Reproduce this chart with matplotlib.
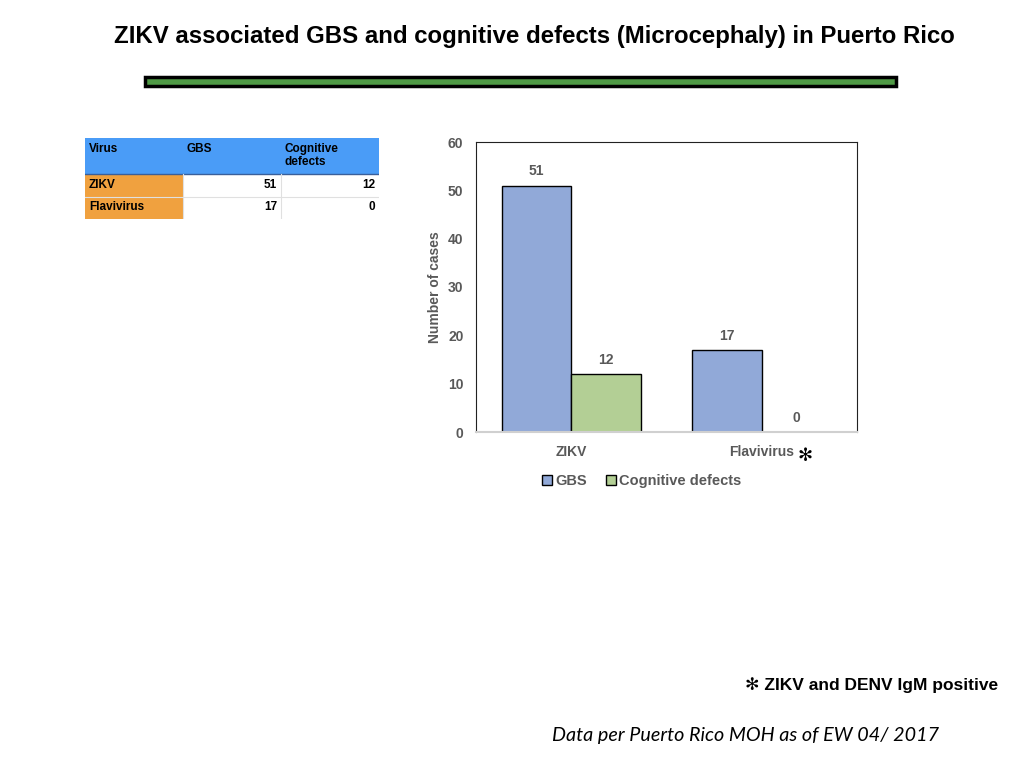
import matplotlib
matplotlib.use("Agg")
import matplotlib.pyplot as plt
import numpy as np
from matplotlib.patches import Rectangle

# data
viruses = ["ZIKV", "Flavivirus"]
gbs = [51, 17]
cognitive = [12, 0]
series_names = ["GBS", "Cognitive defects"]
table_header = ["Virus", "GBS", "Cognitive\ndefects"]

blue = "#91a9d8"
green = "#b3cf95"
grey = "#595959"

plt.rcParams["font.family"] = ["Liberation Sans", "DejaVu Sans"]

fig = plt.figure(figsize=(10.24, 7.68), dpi=100)
W, H = 1024, 768

def fx(px):
    return px / W

def fy(py):
    return 1 - py / H

# title and green rule
fig.text(fx(534), fy(37), "ZIKV associated GBS and cognitive defects (Microcephaly) in Puerto Rico",
         ha="center", va="center", fontsize=17.3, fontweight="bold")
fig.patches.append(Rectangle((fx(145), fy(86)), fx(896) - fx(145), fy(77) - fy(86),
                             transform=fig.transFigure, facecolor="#4f9a45",
                             edgecolor="black", linewidth=2.5))

# table
tax = fig.add_axes([fx(85), fy(219), fx(379) - fx(85), fy(138) - fy(219)])
tax.set_xlim(0, 3)
tax.set_ylim(0, 81)
tax.axis("off")
col_x = [0, 1, 2, 3]
row_y = [81, 45, 22, 0]  # header, zikv, flavi
tax.add_patch(Rectangle((0, 45), 3, 36, facecolor="#4a9cf7", edgecolor="none"))
tax.add_patch(Rectangle((0, 0), 1, 45, facecolor="#f0a13f", edgecolor="none"))
tax.plot([0, 3], [45, 45], color="#3a5f9a", lw=1)
tax.plot([0, 3], [22, 22], color="#e0e0e0", lw=0.8)
tax.plot([1, 1], [0, 45], color="#e0e0e0", lw=0.8)
tax.plot([2, 2], [0, 45], color="#e0e0e0", lw=0.8)
for j, h in enumerate(table_header):
    tax.text(col_x[j] + 0.04, 76, h, ha="left", va="top", fontsize=8.5,
             fontweight="bold", linespacing=1.1)
for i, v in enumerate(viruses):
    yc = (row_y[i + 1] + row_y[i + 2]) / 2 + 1
    tax.text(0.04, yc, v, ha="left", va="center", fontsize=8.5, fontweight="bold")
    tax.text(1.96, yc, str(gbs[i]), ha="right", va="center", fontsize=8.5, fontweight="bold")
    tax.text(2.96, yc, str(cognitive[i]), ha="right", va="center", fontsize=8.5, fontweight="bold")

# bar chart
ax = fig.add_axes([fx(476), fy(432), fx(857) - fx(476), fy(142) - fy(432)])
x = np.arange(len(viruses))
w = 0.365
b1 = ax.bar(x - w / 2, gbs, w, color=blue, edgecolor="black", linewidth=1, label=series_names[0])
b2 = ax.bar(x + w / 2, cognitive, w, color=green, edgecolor="black", linewidth=1, label=series_names[1])
for bars in (b1, b2):
    for r in bars:
        ax.text(r.get_x() + r.get_width() / 2, r.get_height() + 2.9, str(int(r.get_height())),
                ha="center", va="center", fontsize=10, fontweight="bold", color=grey)
ax.set_xlim(-0.5, 1.5)
ax.set_ylim(0, 60)
ax.set_yticks(range(0, 61, 10))
ax.set_xticks(x)
ax.set_xticklabels(viruses)
ax.tick_params(length=0, labelsize=10, colors=grey, pad=9)
for lab in ax.get_xticklabels() + ax.get_yticklabels():
    lab.set_fontweight("bold")
ax.set_ylabel("Number of cases", fontsize=10, fontweight="bold", color=grey, labelpad=4)
for s in ["top", "right", "left"]:
    ax.spines[s].set_color("#222222")
ax.spines["bottom"].set_color("#d0d0d0")
ax.spines["bottom"].set_linewidth(1.5)
ax.text(1.23, -4.9, "✻", ha="center", va="center", fontsize=13, family="DejaVu Sans",
        fontweight="bold")
leg = ax.legend(loc="center", bbox_to_anchor=(0.435, -0.17), ncol=2, frameon=False,
                fontsize=10.5, handlelength=0.7, handleheight=0.7, handletextpad=0.2,
                columnspacing=1.3)
for t in leg.get_texts():
    t.set_color(grey)
    t.set_fontweight("bold")

# footnotes
fig.text(fx(998), fy(685), "✻ ZIKV and DENV IgM positive", ha="right", va="center",
         fontsize=12.5, fontweight="bold", family=["Liberation Sans", "DejaVu Sans"])
fig.text(fx(552), fy(736), "Data per Puerto Rico MOH as of EW 04/ 2017", ha="left", va="center",
         fontsize=14.2, style="italic", family=["Lato", "DejaVu Sans"])

fig.savefig("out.png", dpi=100)
